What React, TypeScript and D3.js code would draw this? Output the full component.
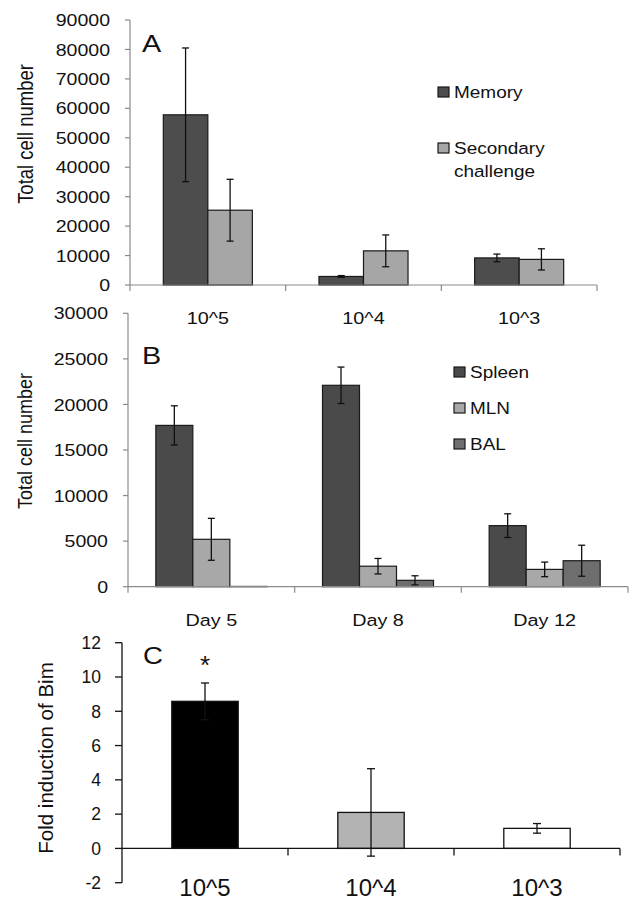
import React from "react";
import * as d3 from "d3";

const catsA = ["10^5", "10^4", "10^3"];
const memory = [57800, 2900, 9200];
const memoryErr = [22700, 300, 1300];
const secondary = [25400, 11600, 8700];
const secondaryErr = [10500, 5400, 3600];
const ticksA = [0, 10000, 20000, 30000, 40000, 50000, 60000, 70000, 80000, 90000];

const catsB = ["Day 5", "Day 8", "Day 12"];
const spleen = [17700, 22100, 6700];
const spleenErr = [2150, 2000, 1300];
const mln = [5200, 2250, 1900];
const mlnErr = [2300, 850, 800];
const bal = [30, 700, 2850];
const balErr = [0, 500, 1700];
const ticksB = [0, 5000, 10000, 15000, 20000, 25000, 30000];

const catsC = ["10^5", "10^4", "10^3"];
const bim = [8.58, 2.1, 1.17];
const bimErr = [1.07, 2.55, 0.28];
const bimColors = ["#000000", "#b3b3b3", "#ffffff"];
const ticksC = [-2, 0, 2, 4, 6, 8, 10, 12];

const FONT = "Liberation Sans, Arial, Helvetica, sans-serif";

type Series = { name: string; values: number[]; err: number[]; color: string };

function T({ x, y, size, sx = 1, anchor = "start", rotate = false, dy, children }: any) {
  return (
    <text
      transform={`translate(${x},${y}) scale(${sx},1)${rotate ? " rotate(-90)" : ""}`}
      fontSize={size}
      textAnchor={anchor}
      dy={dy}
      fill="#111"
    >
      {children}
    </text>
  );
}

function ErrBar({ x, y1, y2, cap, stroke = "#111" }: { x: number; y1: number; y2: number; cap: number; stroke?: string }) {
  return (
    <g stroke={stroke} strokeWidth={1.3}>
      <line x1={x} x2={x} y1={y1} y2={y2} />
      <line x1={x - cap} x2={x + cap} y1={y1} y2={y1} />
      <line x1={x - cap} x2={x + cap} y1={y2} y2={y2} />
    </g>
  );
}

function GroupPanel({
  cats, series, ticks, xRange, yRange, yMax, barFrac, axisColor, tickLabelX, catLabelY,
  ylabel, ylabelPos, ylabelSize, letter, letterPos, legendX, legendYs, legendLines,
}: any) {
  const x = d3.scaleBand().domain(cats).range(xRange).paddingInner(0).paddingOuter(0);
  const y = d3.scaleLinear().domain([0, yMax]).range(yRange);
  const bw = x.bandwidth();
  const groupW = bw * barFrac * series.length;
  const sub = d3.scaleBand().domain(series.map((s: Series) => s.name)).range([0, groupW]);
  return (
    <g fontFamily={FONT}>
      {cats.map((c: string, i: number) => {
        const x0 = (x(c) as number) + bw / 2 - groupW / 2;
        return (
          <g key={c}>
            {series.map((s: Series) => {
              const bx = x0 + (sub(s.name) as number);
              const v = s.values[i];
              return (
                <rect key={s.name} x={bx} y={y(v)} width={sub.bandwidth()} height={y(0) - y(v)}
                  fill={s.color} stroke="#1a1a1a" strokeWidth={1.2} />
              );
            })}
            {series.map((s: Series) => {
              const bx = x0 + (sub(s.name) as number) + sub.bandwidth() / 2;
              const v = s.values[i];
              const e = s.err[i];
              if (!e) return null;
              return <ErrBar key={s.name} x={bx} y1={y(v + e)} y2={y(v - e)} cap={3.5} />;
            })}
          </g>
        );
      })}
      <g stroke={axisColor} strokeWidth={1.2}>
        <line x1={xRange[0]} x2={xRange[0]} y1={yRange[0]} y2={yRange[1]} />
        <line x1={xRange[0]} x2={xRange[1]} y1={yRange[0]} y2={yRange[0]} />
        {ticks.map((t: number) => (
          <line key={t} x1={xRange[0] - 5} x2={xRange[0]} y1={y(t)} y2={y(t)} />
        ))}
        {[...cats.map((c: string) => x(c) as number), xRange[1]].map((p: number, i: number) => (
          <line key={i} x1={p} x2={p} y1={yRange[0]} y2={yRange[0] + 6} />
        ))}
      </g>
      {ticks.map((t: number) => (
        <T key={t} x={tickLabelX} y={y(t)} dy="0.36em" anchor="end" size={17} sx={1.15}>{t}</T>
      ))}
      {cats.map((c: string) => (
        <T key={c} x={(x(c) as number) + bw / 2} y={catLabelY} anchor="middle" size={16.5} sx={1.2}>{c}</T>
      ))}
      <T x={ylabelPos[0]} y={ylabelPos[1]} anchor="middle" size={ylabelSize} sx={1.15} rotate>{ylabel}</T>
      <T x={letterPos[0]} y={letterPos[1]} size={24} sx={1.2}>{letter}</T>
      {series.map((s: Series, i: number) => (
        <g key={s.name}>
          <rect x={legendX} y={legendYs[i]} width={11} height={10} fill={s.color} stroke="#1a1a1a" strokeWidth={1.2} />
          {legendLines[i].map((ln: string, j: number) => (
            <T key={j} x={legendX + 16} y={legendYs[i] + 11 + j * 23} size={16.5} sx={1.15}>{ln}</T>
          ))}
        </g>
      ))}
    </g>
  );
}

function PanelC() {
  const xRange: [number, number] = [122, 620];
  const yRange: [number, number] = [882.7, 642.7];
  const x = d3.scaleBand().domain(catsC).range(xRange);
  const y = d3.scaleLinear().domain([-2, 12]).range(yRange);
  const bw = x.bandwidth();
  const barW = bw * 0.4;
  return (
    <g fontFamily={FONT}>
      {catsC.map((c, i) => {
        const cx = (x(c) as number) + bw / 2;
        return (
          <g key={c}>
            <rect x={cx - barW / 2} y={y(bim[i])} width={barW} height={y(0) - y(bim[i])}
              fill={bimColors[i]} stroke="#111" strokeWidth={1.3} />
            <ErrBar x={cx} y1={y(bim[i] + bimErr[i])} y2={y(bim[i] - bimErr[i])} cap={4} />
          </g>
        );
      })}
      <g stroke="#111" strokeWidth={1.3}>
        <line x1={xRange[0]} x2={xRange[0]} y1={yRange[0]} y2={yRange[1]} />
        <line x1={xRange[0]} x2={xRange[1]} y1={y(0)} y2={y(0)} />
        {ticksC.map((t) => (
          <line key={t} x1={xRange[0] - 7} x2={xRange[0]} y1={y(t)} y2={y(t)} />
        ))}
        {[...catsC.map((c) => x(c) as number), xRange[1]].slice(1).map((p, i) => (
          <line key={i} x1={p} x2={p} y1={y(0)} y2={y(0) + 7} />
        ))}
      </g>
      {ticksC.map((t) => (
        <T key={t} x={101} y={y(t)} dy="0.36em" anchor="end" size={17.5}>{t}</T>
      ))}
      {catsC.map((c) => (
        <T key={c} x={(x(c) as number) + bw / 2} y={896} anchor="middle" size={24}>{c}</T>
      ))}
      <T x={53} y={758} anchor="middle" size={20.5} rotate>Fold induction of Bim</T>
      <T x={143} y={664} size={24} sx={1.15}>C</T>
      <T x={(x(catsC[0]) as number) + bw / 2} y={674} anchor="middle" size={26}>*</T>
    </g>
  );
}

export default function App() {
  const seriesA: Series[] = [
    { name: "Memory", values: memory, err: memoryErr, color: "#4d4d4d" },
    { name: "Secondary challenge", values: secondary, err: secondaryErr, color: "#a6a6a6" },
  ];
  const seriesB: Series[] = [
    { name: "Spleen", values: spleen, err: spleenErr, color: "#4a4a4a" },
    { name: "MLN", values: mln, err: mlnErr, color: "#a8a8a8" },
    { name: "BAL", values: bal, err: balErr, color: "#6e6e6e" },
  ];
  return (
    <svg width={639} height={912} style={{ position: "absolute", left: 0, top: 0, background: "#fff" }}>
      <rect width={639} height={912} fill="#fff" />
      <GroupPanel
        cats={catsA} series={seriesA} ticks={ticksA} xRange={[130, 597]} yRange={[285, 20]} yMax={90000}
        barFrac={0.286} axisColor="#8a8a8a" tickLabelX={110} catLabelY={324}
        ylabel="Total cell number" ylabelPos={[32.5, 134]} ylabelSize={18.5}
        letter="A" letterPos={[142, 52]}
        legendX={438} legendYs={[87, 143]} legendLines={[["Memory"], ["Secondary", "challenge"]]}
      />
      <GroupPanel
        cats={catsB} series={seriesB} ticks={ticksB} xRange={[128, 628]} yRange={[586.7, 313.3]} yMax={30000}
        barFrac={0.222} axisColor="#8a8a8a" tickLabelX={108} catLabelY={626}
        ylabel="Total cell number" ylabelPos={[31.5, 441]} ylabelSize={18}
        letter="B" letterPos={[142, 364]}
        legendX={454} legendYs={[367, 403, 439]} legendLines={[["Spleen"], ["MLN"], ["BAL"]]}
      />
      <PanelC />
    </svg>
  );
}
